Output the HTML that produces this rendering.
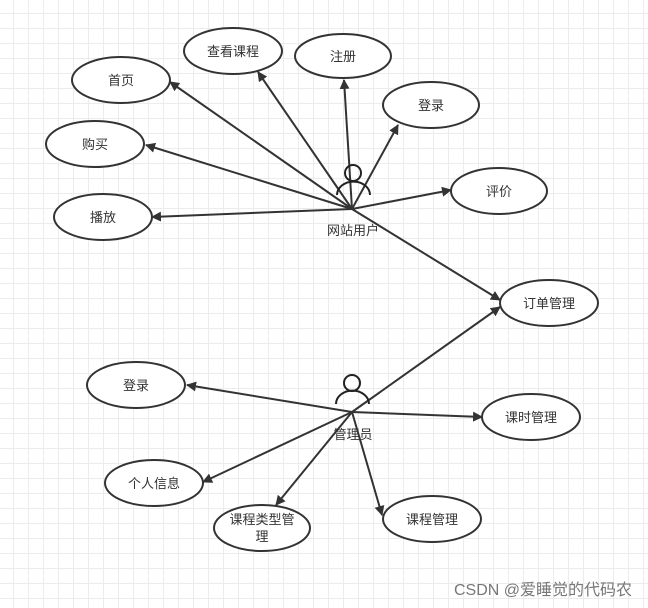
<!DOCTYPE html>
<html><head><meta charset="utf-8"><style>
html,body{margin:0;padding:0;}
body{width:648px;height:608px;overflow:hidden;background:#fff;
background-image:linear-gradient(#ececec 1px,transparent 1px),linear-gradient(90deg,#ececec 1px,transparent 1px);
background-size:15px 15px;background-position:13px 13px;}
svg{position:absolute;left:0;top:0;}
text{font-family:"Liberation Sans","Noto Sans CJK SC",sans-serif;font-size:13px;fill:#333;}
</style></head><body>
<svg width="648" height="608" viewBox="0 0 648 608">
<defs><marker id="a" markerWidth="10" markerHeight="10" refX="9" refY="5" orient="auto" markerUnits="userSpaceOnUse"><path d="M0,0 L10,5 L0,10 Z" fill="#333"/></marker></defs>
<g stroke="#333" stroke-width="2" fill="none" marker-end="url(#a)">
<line x1="352" y1="209" x2="170" y2="82"/>
<line x1="352" y1="209" x2="258" y2="72"/>
<line x1="352" y1="209" x2="344" y2="80"/>
<line x1="352" y1="209" x2="398" y2="125"/>
<line x1="352" y1="209" x2="146" y2="145"/>
<line x1="352" y1="209" x2="451" y2="190"/>
<line x1="352" y1="209" x2="152" y2="217"/>
<line x1="352" y1="209" x2="500" y2="300"/>
<line x1="352" y1="412" x2="500" y2="307"/>
<line x1="352" y1="412" x2="187" y2="385"/>
<line x1="352" y1="412" x2="482" y2="417"/>
<line x1="352" y1="412" x2="203" y2="482"/>
<line x1="352" y1="412" x2="276" y2="505"/>
<line x1="352" y1="412" x2="382" y2="515"/>
</g>
<g stroke="#222" stroke-width="2" fill="none">
<circle cx="353" cy="173" r="8"/>
<path d="M337,195 A16,13 0 0 1 370,195"/>
<circle cx="352" cy="383" r="8"/>
<path d="M336,404 A16,13 0 0 1 369,404"/>
</g>
<g stroke="#333" stroke-width="2" fill="#fff">
<ellipse cx="121" cy="80" rx="49" ry="23"/>
<ellipse cx="233" cy="51" rx="49" ry="23"/>
<ellipse cx="343" cy="56" rx="48" ry="22"/>
<ellipse cx="431" cy="105" rx="48" ry="23"/>
<ellipse cx="95" cy="144" rx="49" ry="23"/>
<ellipse cx="499" cy="191" rx="48" ry="23"/>
<ellipse cx="103" cy="217" rx="49" ry="23"/>
<ellipse cx="549" cy="303" rx="49" ry="23"/>
<ellipse cx="136" cy="385" rx="49" ry="23"/>
<ellipse cx="531" cy="417" rx="49" ry="23"/>
<ellipse cx="154" cy="483" rx="49" ry="23"/>
<ellipse cx="262" cy="528" rx="48" ry="23"/>
<ellipse cx="432" cy="519" rx="49" ry="23"/>
</g>
<g text-anchor="middle">
<text x="121" y="85">首页</text>
<text x="233" y="56">查看课程</text>
<text x="343" y="61">注册</text>
<text x="431" y="110">登录</text>
<text x="95" y="149">购买</text>
<text x="499" y="196">评价</text>
<text x="103" y="222">播放</text>
<text x="549" y="308">订单管理</text>
<text x="136" y="390">登录</text>
<text x="531" y="422">课时管理</text>
<text x="154" y="488">个人信息</text>
<text x="262" y="524">课程类型管</text>
<text x="262" y="541">理</text>
<text x="432" y="524">课程管理</text>
<text x="353" y="235">网站用户</text>
<text x="353" y="439">管理员</text>
</g>
<text x="632" y="595" text-anchor="end" style="font-size:16px;fill:#777">CSDN @爱睡觉的代码农</text>
</svg>
</body></html>
